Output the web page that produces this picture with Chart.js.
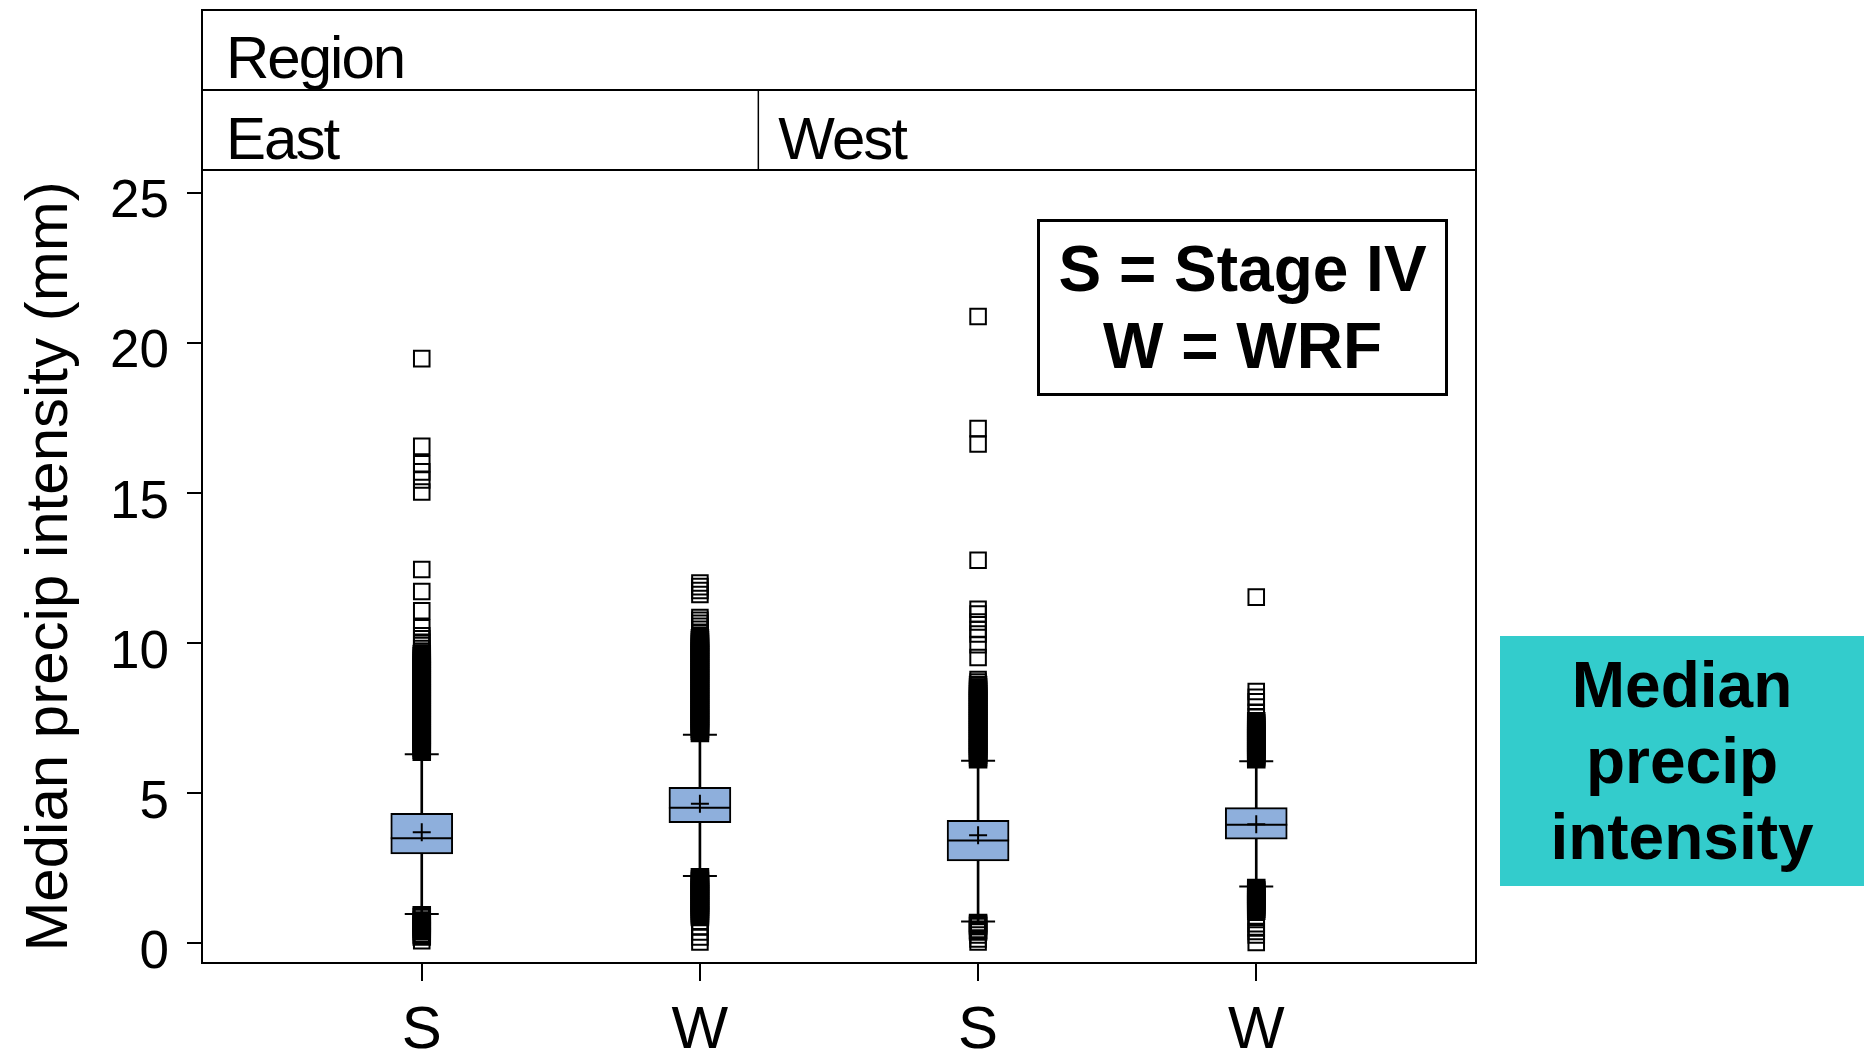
<!DOCTYPE html>
<html lang="en">
<head>
<meta charset="UTF-8">
<title>Median precip intensity</title>
<script src="https://cdn.jsdelivr.net/npm/chart.js"></script>
<style>
    body { margin: 0; background: #fff; }
    .wrap { position: relative; width: 1864px; height: 1063px; }
    .key {
        position: absolute; left: 1037px; top: 219px; width: 405px; height: 171px;
        border: 3px solid #000; background: #fff;
        font: bold 64px/77px "Liberation Sans", Arial, sans-serif;
        display: flex; flex-direction: column; justify-content: center; text-align: center;
    }
    .note {
        position: absolute; left: 1500px; top: 636px; width: 364px; height: 250px;
        background: #33cccc; color: #000;
        font: bold 64px/76px "Liberation Sans", Arial, sans-serif;
        display: flex; flex-direction: column; justify-content: center; text-align: center;
    }
</style>
</head>
<body>
<div class="wrap">
    <canvas id="chart"></canvas>
    <div class="key"><div>S = Stage IV</div><div>W = WRF</div></div>
    <div class="note"><div>Median</div><div>precip</div><div>intensity</div></div>
</div>
<script>
// box statistics per group: East S, East W, West S, West W
const groupLabels = ['S', 'W', 'S', 'W'];
const groupPos = [0, 1, 2, 3];
const q1 = [2.98, 4.02, 2.75, 3.47];
const q3 = [4.33, 5.20, 4.10, 4.52];
const medians = [3.50, 4.52, 3.43, 3.95];
const means = [3.70, 4.65, 3.60, 3.97];
const whiskerLow = [0.98, 2.25, 0.73, 1.90];
const whiskerHigh = [6.30, 6.95, 6.08, 6.07];

const outliersEastS = [
    19.47, 16.55, 15.97, 15.70, 15.43, 15.03, 12.45, 11.72, 11.08, 10.51,
    10.24, 10.14, 10.03, 9.92, 9.82, 9.73, 9.64, 9.56, 9.48, 9.41, 9.34, 9.27, 9.20,
    9.13, 9.06, 8.99, 8.90, 8.83, 8.76, 8.69, 8.62, 8.55, 8.48, 8.41, 8.34, 8.27, 8.20,
    8.13, 8.06, 7.99, 7.92, 7.85, 7.78, 7.71, 7.64, 7.57, 7.50, 7.43, 7.36, 7.29, 7.22,
    7.15, 7.08, 7.01, 6.94, 6.87, 6.80, 6.73, 6.66, 6.59, 6.52, 6.45, 6.38,
    0.94, 0.88, 0.76, 0.69, 0.62, 0.55, 0.48, 0.41, 0.30, 0.23, 0.09
];
const outliersEastW = [
    12.00, 11.88, 11.75, 11.62,
    10.85, 10.76, 10.66, 10.56, 10.46, 10.36, 10.26, 10.16, 10.09, 10.02, 9.95, 9.88,
    9.81, 9.74, 9.67, 9.60, 9.53, 9.46, 9.39, 9.32, 9.25, 9.18, 9.11, 9.04, 8.97, 8.90,
    8.83, 8.76, 8.69, 8.62, 8.55, 8.48, 8.41, 8.34, 8.27, 8.20, 8.13, 8.06, 7.99, 7.92,
    7.85, 7.78, 7.71, 7.64, 7.57, 7.50, 7.43, 7.36, 7.29, 7.22, 7.15, 7.08, 7.01,
    2.20, 2.13, 2.06, 1.99, 1.92, 1.85, 1.78, 1.71, 1.64, 1.57, 1.50, 1.43, 1.36, 1.29,
    1.22, 1.15, 1.08, 1.01, 0.94, 0.88, 0.72, 0.55, 0.38, 0.22, 0.05
];
const outliersWestS = [
    20.87, 17.14, 16.63, 12.76, 11.13, 10.97, 10.70, 10.45, 10.30, 9.95, 9.52,
    8.79, 8.70, 8.60, 8.52, 8.45, 8.38, 8.30, 8.22, 8.15, 8.08, 8.00, 7.92, 7.85, 7.78,
    7.70, 7.63, 7.55, 7.48, 7.40, 7.33, 7.25, 7.18, 7.10, 7.03, 6.95, 6.88, 6.80, 6.73,
    6.65, 6.58, 6.50, 6.43, 6.35, 6.28, 6.20, 6.13,
    0.68, 0.63, 0.58, 0.45, 0.40, 0.28, 0.15, 0.05
];
const outliersWestW = [
    11.53, 8.39, 8.20, 8.05, 7.70, 7.55, 7.40,
    7.32, 7.25, 7.18, 7.11, 7.04, 6.97, 6.90, 6.83, 6.76, 6.69, 6.62, 6.55, 6.48, 6.41,
    6.34, 6.27, 6.20, 6.13,
    1.85, 1.78, 1.72, 1.65, 1.58, 1.51, 1.44, 1.37, 1.30, 1.23, 1.16, 1.09, 0.87, 0.66,
    0.52, 0.40, 0.28, 0.03
];

const yTicks = [0, 5, 10, 15, 20, 25];
const panelNames = ['East', 'West'];
const panelSplit = 1.21;   // x position of the East | West divider in the header

const outlierSets = [outliersEastS, outliersEastW, outliersWestS, outliersWestW];
const at = vals => vals.map((v, i) => ({ x: groupPos[i], y: v }));
const FONT = '"Liberation Sans", Arial, sans-serif';

// squares that sit in a tight run get a heavier outline so the run prints solid
const outlierPoints = outlierSets.flatMap((vals, g) => vals.map((v, i) => {
    let gap = Infinity;
    vals.forEach((w, j) => { if (j !== i) gap = Math.min(gap, Math.abs(w - v)); });
    return { x: groupPos[g], y: v, packed: gap < 0.085 };
}));

Chart.defaults.font.family = FONT;
Chart.defaults.color = '#000';

// outer frame plus the two-row Region / East | West header
const frameAndHeader = {
    id: 'frameAndHeader',
    afterDraw(chart) {
        const { ctx, chartArea: a, scales: { x } } = chart;
        const rowH = 80;
        const top = a.top - 2 * rowH;
        const split = x.getPixelForValue(panelSplit);
        ctx.save();
        ctx.strokeStyle = '#000';
        ctx.lineWidth = 2;
        ctx.strokeRect(a.left, a.top, a.right - a.left, a.bottom - a.top);
        ctx.strokeRect(a.left, top, a.right - a.left, 2 * rowH);
        ctx.beginPath();
        ctx.moveTo(a.left, top + rowH);
        ctx.lineTo(a.right, top + rowH);
        ctx.stroke();
        ctx.lineWidth = 1.5;
        ctx.beginPath();
        ctx.moveTo(split, top + rowH);
        ctx.lineTo(split, a.top);
        ctx.stroke();
        ctx.fillStyle = '#000';
        ctx.font = '60px ' + FONT;
        ctx.letterSpacing = '-2px';
        ctx.textBaseline = 'alphabetic';
        ctx.fillText('Region', a.left + 24, top + 68);
        ctx.fillText(panelNames[0], a.left + 24, top + rowH + 69);
        ctx.fillText(panelNames[1], split + 20, top + rowH + 69);
        ctx.restore();
    }
};

new Chart(document.getElementById('chart'), {
    type: 'scatter',
    data: {
        datasets: [
            {
                type: 'bar',
                data: groupPos.map((x, i) => ({ x, y: [whiskerLow[i], whiskerHigh[i]] })),
                backgroundColor: '#000',
                borderWidth: 0,
                barThickness: 2,
                grouped: false,
                order: 6
            },
            {
                type: 'bar',
                data: groupPos.map((x, i) => ({ x, y: [q1[i], q3[i]] })),
                backgroundColor: '#8eafdc',
                borderColor: '#000',
                borderWidth: 2,
                borderSkipped: false,
                barThickness: 62,
                grouped: false,
                order: 5
            },
            {
                data: at(whiskerLow).concat(at(whiskerHigh)),
                pointStyle: 'line',
                pointRadius: 17,
                pointBorderColor: '#000',
                pointBorderWidth: 2,
                order: 4
            },
            {
                data: at(medians),
                pointStyle: 'line',
                pointRadius: 31,
                pointBorderColor: '#000',
                pointBorderWidth: 2,
                order: 3
            },
            {
                data: at(means),
                pointStyle: 'cross',
                pointRadius: 9,
                pointBorderColor: '#000',
                pointBorderWidth: 2,
                order: 2
            },
            {
                data: outlierPoints,
                pointStyle: 'rect',
                pointRadius: 11,
                pointBorderColor: '#000',
                pointBackgroundColor: 'rgba(0,0,0,0)',
                pointBorderWidth: c => (c.raw && c.raw.packed ? 3 : 2),
                order: 1
            }
        ]
    },
    options: {
        responsive: true,
        maintainAspectRatio: false,
        animation: false,
        events: [],
        layout: { padding: { top: 170, right: 388, bottom: 0, left: 0 } },
        plugins: { legend: { display: false }, tooltip: { enabled: false } },
        scales: {
            x: {
                type: 'linear',
                min: -0.79,
                max: 3.79,
                offset: false,
                afterBuildTicks: s => { s.ticks = groupPos.map(v => ({ value: v })); },
                afterFit: s => { s.height = 100; },
                grid: { offset: false, drawOnChartArea: false, color: '#000', lineWidth: 2, tickLength: 18 },
                border: { color: '#000', width: 2 },
                ticks: {
                    color: '#000',
                    font: { size: 60 },
                    padding: 14,
                    maxRotation: 0,
                    autoSkip: false,
                    callback: (v, i) => groupLabels[i]
                }
            },
            y: {
                min: -0.65,
                max: 25.75,
                afterBuildTicks: s => { s.ticks = yTicks.map(v => ({ value: v })); },
                afterFit: s => { s.width = 202; },
                grid: { drawOnChartArea: false, color: '#000', lineWidth: 2, tickLength: 15 },
                border: { color: '#000', width: 2 },
                ticks: { color: '#000', font: { size: 53 }, padding: 18, labelOffset: 10 },
                title: {
                    display: true,
                    text: 'Median precip intensity (mm)',
                    color: '#000',
                    font: { size: 60 },
                    padding: { top: 14, bottom: 0 }
                }
            }
        }
    },
    plugins: [frameAndHeader]
});
</script>
</body>
</html>
